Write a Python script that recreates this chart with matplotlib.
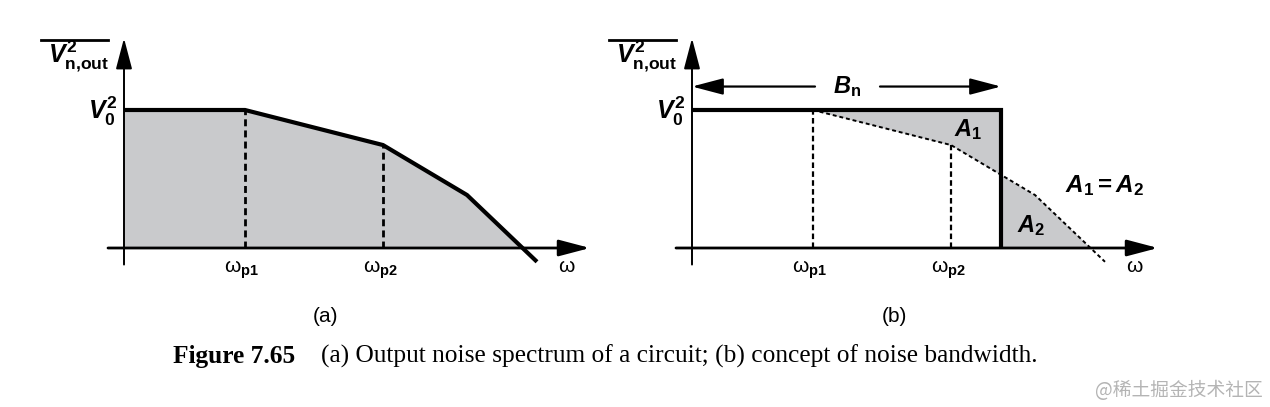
import numpy as np
import matplotlib
matplotlib.use("Agg")
import matplotlib.pyplot as plt

plt.rcParams["mathtext.fontset"] = "custom"
plt.rcParams["mathtext.rm"] = "Liberation Sans:bold"
plt.rcParams["mathtext.bf"] = "Liberation Sans:bold"
plt.rcParams["mathtext.it"] = "Liberation Sans:italic:bold"
plt.rcParams["mathtext.sf"] = "Liberation Sans"

# output noise spectrum, corner points (V0^2 normalised to 1)
omega = np.array([0.0, 1.21, 2.59, 3.43, 4.13])
psd = np.array([1.0, 1.0, 0.746, 0.384, -0.10])
v0 = 1.0
b_n = 3.09  # equivalent noise bandwidth

pole_labels = [r"$\mathsf{\omega}_\mathrm{p1}$", r"$\mathsf{\omega}_\mathrm{p2}$"]
panel_labels = ["(a)", "(b)"]
caption_num = "Figure 7.65"
caption_text = "(a) Output noise spectrum of a circuit; (b) concept of noise bandwidth."

GRAY = "#c9cacc"
W, H = 1270, 407

fig = plt.figure(figsize=(W / 100, H / 100), dpi=100)


def make_axes(origin_px):
    # 100 px per omega unit, 138 px per V0^2
    ax = fig.add_axes([(origin_px - 100) / W, (H - 317) / H, 600 / W, 310.5 / H])
    ax.set_xlim(-1, 5)
    ax.set_ylim(-0.5, 1.75)
    ax.axis("off")
    return ax


def arrow(ax, start, tip, lw=2.0):
    ax.annotate("", xy=tip, xytext=start,
                arrowprops=dict(arrowstyle="-|>,head_length=1.9,head_width=0.5",
                                lw=lw, color="black", mutation_scale=10,
                                shrinkA=0, shrinkB=0))


def draw_frame(ax, label):
    arrow(ax, (-0.16, 0), (4.66, 0), lw=2.0)
    arrow(ax, (0, -0.12), (0, 1.52), lw=1.4)
    ax.text(-0.15, 1.39, r"$V^2_\mathrm{n{,}out}$", ha="right", va="center", fontsize=18)
    ax.plot([-0.83, -0.16], [1.51, 1.51], color="black", lw=2, clip_on=False)
    ax.text(-0.07, 0.99, r"$V^2_0$", ha="right", va="center", fontsize=18)
    for w, lab in zip(omega[1:3], pole_labels):
        ax.text(w - 0.03, -0.16, lab, ha="center", va="center", fontsize=15)
    ax.text(4.43, -0.13, r"$\mathsf{\omega}$", ha="center", va="center", fontsize=15)
    ax.text(2.02, -0.50, label, ha="center", va="center", fontsize=15,
            family="Liberation Sans")


# (a) output noise spectrum
ax = make_axes(124)
ax.fill_between(omega, psd, 0, where=psd >= 0, interpolate=True, color=GRAY, lw=0)
ax.plot(omega, psd, color="black", lw=3, solid_joinstyle="miter", solid_capstyle="butt")
ax.vlines(omega[1:3], 0, psd[1:3], colors="black", lw=2, linestyles=(0, (2.5, 1.5)))
draw_frame(ax, panel_labels[0])

# (b) noise bandwidth
ax = make_axes(692)
x1 = np.r_[omega[(omega >= omega[1]) & (omega < b_n)], b_n]
ax.fill_between(x1, np.interp(x1, omega, psd), v0, color=GRAY, lw=0)
x2 = np.r_[b_n, omega[omega > b_n]]
y2 = np.interp(x2, omega, psd)
ax.fill_between(x2, y2, 0, where=y2 >= 0, interpolate=True, color=GRAY, lw=0)
ax.plot(omega[1:], psd[1:], color="black", lw=1.4, ls=(0, (2, 1.5)))
ax.vlines(omega[1:3], 0, psd[1:3], colors="black", lw=1.6, linestyles=(0, (2.5, 1.5)))
ax.plot([0, b_n, b_n], [v0, v0, 0], color="black", lw=3, solid_joinstyle="miter",
        solid_capstyle="butt")
arrow(ax, (1.23, 1.17), (0, 1.17), lw=1.6)
arrow(ax, (1.88, 1.17), (b_n, 1.17), lw=1.6)
ax.text(1.55, 1.17, r"$B_\mathrm{n}$", ha="center", va="center", fontsize=17)
ax.text(2.76, 0.86, r"$A_1$", ha="center", va="center", fontsize=17)
ax.text(3.39, 0.16, r"$A_2$", ha="center", va="center", fontsize=17)
ax.text(4.13, 0.45, r"$A_1 = A_2$", ha="center", va="center", fontsize=17.5)
draw_frame(ax, panel_labels[1])

# caption and watermark
fig.text(173 / W, (H - 363) / H, caption_num, ha="left", va="baseline",
         fontsize=18.3, fontweight="bold", family="Liberation Serif")
fig.text(321 / W, (H - 363) / H, caption_text, ha="left", va="baseline",
         fontsize=18.3, family="Liberation Serif")
fig.text(1263 / W, (H - 390) / H, "@稀土掘金技术社区", ha="right", va="center",
         fontsize=13.5, color="#b4b4b4", family=["Noto Sans CJK SC", "DejaVu Sans"])

fig.savefig("out.png", dpi=100, facecolor="white")
